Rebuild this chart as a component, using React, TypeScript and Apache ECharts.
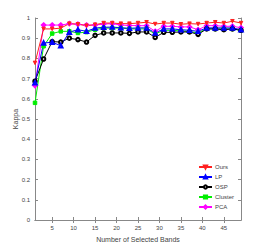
import React, { useEffect, useRef } from "react";
import * as echarts from "echarts";

const bands = [1, 3, 5, 7, 9, 11, 13, 15, 17, 19, 21, 23, 25, 27, 29, 31, 33, 35, 37, 39, 41, 43, 45, 47, 49];
const xTicks = [5, 10, 15, 20, 25, 30, 35, 40, 45];

const ours = [0.778, 0.946, 0.946, 0.95, 0.972, 0.969, 0.962, 0.967, 0.975, 0.975, 0.972, 0.972, 0.975, 0.979, 0.97, 0.975, 0.975, 0.969, 0.972, 0.97, 0.975, 0.979, 0.975, 0.984, 0.975];
const lp = [0.68, 0.876, 0.88, 0.863, 0.93, 0.942, 0.934, 0.95, 0.954, 0.955, 0.952, 0.949, 0.951, 0.951, 0.926, 0.946, 0.946, 0.942, 0.939, 0.934, 0.951, 0.951, 0.951, 0.951, 0.942];
const osp = [0.687, 0.797, 0.883, 0.881, 0.9, 0.893, 0.881, 0.914, 0.926, 0.926, 0.926, 0.924, 0.931, 0.931, 0.904, 0.929, 0.929, 0.931, 0.931, 0.919, 0.946, 0.946, 0.942, 0.946, 0.939];
const cluster = [0.58, 0.86, 0.923, 0.934, 0.934, 0.926, 0.93, 0.942, 0.95, 0.95, 0.95, 0.946, 0.946, 0.946, 0.921, 0.939, 0.939, 0.936, 0.933, 0.926, 0.947, 0.946, 0.946, 0.946, 0.939];
const pca = [0.666, 0.965, 0.965, 0.965, 0.972, 0.969, 0.965, 0.965, 0.97, 0.972, 0.965, 0.963, 0.962, 0.962, 0.934, 0.959, 0.959, 0.956, 0.956, 0.942, 0.962, 0.962, 0.959, 0.959, 0.952];

const seriesDefs = [
  { name: "Ours", values: ours, color: "#ff2020", symbol: "triangle", rotate: 180 },
  { name: "LP", values: lp, color: "#0000ff", symbol: "emptyTriangle", rotate: 0 },
  { name: "OSP", values: osp, color: "#000000", symbol: "emptyCircle", rotate: 0 },
  { name: "Cluster", values: cluster, color: "#00ee00", symbol: "rect", rotate: 0 },
  { name: "PCA", values: pca, color: "#ff00ff", symbol: "emptyDiamond", rotate: 0 },
];

const FONT = "Liberation Sans, Arial, sans-serif";
const AXIS = "#888";
const TEXT = "#444";

export default function App() {
  const ref = useRef<HTMLDivElement>(null);
  useEffect(() => {
    if (!ref.current) return;
    const chart = echarts.init(ref.current, null, { renderer: "svg" });
    const series = seriesDefs.map((s) => ({
      name: s.name,
      type: "line",
      xAxisIndex: 0,
      yAxisIndex: 0,
      data: bands.map((b, i) => [b, s.values[i]]),
      symbol: s.symbol,
      symbolRotate: s.rotate,
      symbolSize: 3.5,
      lineStyle: { color: s.color, width: 1 },
      itemStyle: { color: s.color, borderColor: s.color, borderWidth: 1 },
    }));
    const ordered = [series[4], series[3], series[2], series[1], series[0]];
    chart.setOption({
      animation: false,
      backgroundColor: "#ffffff",
      textStyle: { fontFamily: FONT },
      grid: { left: 35, right: 25, top: 18, bottom: 28 },
      legend: {
        orient: "vertical",
        left: 198,
        top: 164,
        padding: 0,
        itemWidth: 13,
        itemHeight: 4,
        itemGap: 4,
        data: seriesDefs.map((s) => s.name),
        textStyle: { fontSize: 6, color: TEXT, fontFamily: FONT, padding: [0, 0, 0, -2] },
      },
      xAxis: [
        {
          type: "value",
          min: 1,
          max: 49,
          position: "bottom",
          name: "Number of Selected Bands",
          nameLocation: "middle",
          nameGap: 16,
          nameMoveOverlap: false,
          nameTextStyle: { fontSize: 7, color: TEXT, fontFamily: FONT },
          axisLine: { show: true, lineStyle: { color: AXIS, width: 1 } },
          axisTick: { show: true, inside: true, length: 3, customValues: xTicks, lineStyle: { color: AXIS } },
          axisLabel: { customValues: xTicks, fontSize: 6, color: TEXT, margin: 5, fontFamily: FONT },
          splitLine: { show: false },
        },
        {
          type: "value",
          min: 1,
          max: 49,
          position: "top",
          axisLine: { show: true, lineStyle: { color: AXIS, width: 1 } },
          axisTick: { show: true, inside: true, length: 3, customValues: xTicks, lineStyle: { color: AXIS } },
          axisLabel: { show: false, customValues: xTicks },
          splitLine: { show: false },
        },
      ],
      yAxis: [
        {
          type: "value",
          min: 0,
          max: 1,
          interval: 0.1,
          position: "left",
          name: "Kappa",
          nameLocation: "middle",
          nameGap: 16,
          nameMoveOverlap: false,
          nameTextStyle: { fontSize: 7, color: TEXT, fontFamily: FONT },
          axisLine: { show: true, lineStyle: { color: AXIS, width: 1 } },
          axisTick: { show: true, inside: true, length: 3, lineStyle: { color: AXIS } },
          axisLabel: { fontSize: 6, color: TEXT, margin: 5, fontFamily: FONT },
          splitLine: { show: false },
        },
        {
          type: "value",
          min: 0,
          max: 1,
          interval: 0.1,
          position: "right",
          axisLine: { show: true, lineStyle: { color: AXIS, width: 1 } },
          axisTick: { show: true, inside: true, length: 3, lineStyle: { color: AXIS } },
          axisLabel: { show: false },
          splitLine: { show: false },
        },
      ],
      series: ordered,
    });
    return () => chart.dispose();
  }, []);
  return (
    <div
      ref={ref}
      style={{ position: "fixed", left: 0, top: 0, width: 266, height: 248, background: "#fff" }}
    />
  );
}
